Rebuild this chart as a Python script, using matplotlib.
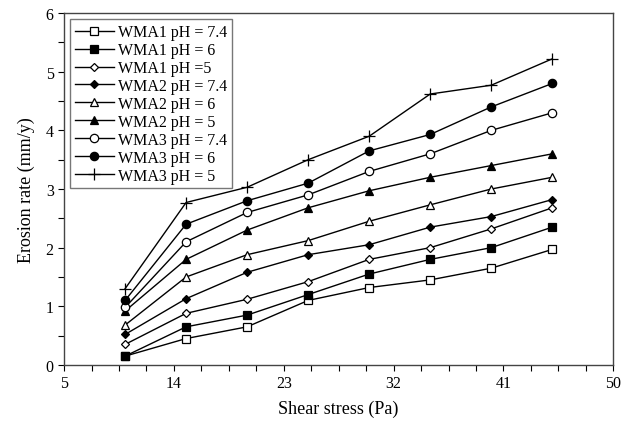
import numpy as np
import matplotlib.pyplot as plt

plt.rcParams['font.family'] = ['Liberation Serif', 'DejaVu Serif']

# shear stress (Pa)
shear = [10, 15, 20, 25, 30, 35, 40, 45]

# erosion rate (mm/y)
wma1_74 = [0.15, 0.45, 0.65, 1.10, 1.32, 1.45, 1.65, 1.97]
wma1_6 = [0.15, 0.65, 0.85, 1.20, 1.55, 1.80, 2.00, 2.35]
wma1_5 = [0.35, 0.88, 1.12, 1.42, 1.80, 2.00, 2.32, 2.68]
wma2_74 = [0.52, 1.13, 1.58, 1.88, 2.05, 2.35, 2.53, 2.82]
wma2_6 = [0.68, 1.50, 1.88, 2.12, 2.45, 2.73, 3.00, 3.20]
wma2_5 = [0.92, 1.80, 2.30, 2.68, 2.97, 3.20, 3.40, 3.60]
wma3_74 = [0.98, 2.10, 2.60, 2.90, 3.30, 3.60, 4.00, 4.30]
wma3_6 = [1.10, 2.40, 2.80, 3.10, 3.65, 3.93, 4.40, 4.80]
wma3_5 = [1.30, 2.77, 3.03, 3.50, 3.90, 4.62, 4.77, 5.22]

labels = ['WMA1 pH = 7.4', 'WMA1 pH = 6', 'WMA1 pH =5',
          'WMA2 pH = 7.4', 'WMA2 pH = 6', 'WMA2 pH = 5',
          'WMA3 pH = 7.4', 'WMA3 pH = 6', 'WMA3 pH = 5']
series = [wma1_74, wma1_6, wma1_5, wma2_74, wma2_6, wma2_5, wma3_74, wma3_6, wma3_5]
# (marker, filled)
styles = [('s', False), ('s', True), ('D', False),
          ('D', True), ('^', False), ('^', True),
          ('o', False), ('o', True), ('+', True)]

xticks = [5, 14, 23, 32, 41, 50]

fig = plt.figure(figsize=(6.22, 4.27), dpi=100)
ax = fig.add_axes([0.103, 0.143, 0.883, 0.824])

for y, lab, (m, filled) in zip(series, labels, styles):
    ms = 6
    if m == 'D':
        ms = 4.5
    if m == '+':
        ms = 8
    ax.plot(shear, y, color='black', lw=1.0, marker=m, ms=ms,
            mfc='black' if filled else 'white', mec='black', mew=0.9,
            label=lab)

ax.set_xlim(5, 50)
ax.set_ylim(0, 6)
ax.set_xticks(xticks)
ax.set_xticks(np.arange(5, 50.01, 2.25), minor=True)
ax.set_yticks(np.arange(0, 6.01, 1))
ax.set_yticks(np.arange(0, 6.01, 0.5), minor=True)
ax.tick_params(which='both', direction='out', length=4, width=0.8, labelsize=11.5)
for s in ax.spines.values():
    s.set_linewidth(1.0)
    s.set_color('#444444')

ax.set_xlabel('Shear stress (Pa)', fontsize=13, labelpad=6)
ax.set_ylabel('Erosion rate (mm/y)', fontsize=13, labelpad=8)

leg = ax.legend(loc='upper left', fontsize=11.5, frameon=True, fancybox=False,
                edgecolor='#555555', handlelength=2.4, labelspacing=0.12,
                borderpad=0.3, handletextpad=0.3, borderaxespad=0.4)
leg.get_frame().set_linewidth(1.0)

fig.savefig('out.png', dpi=100)
